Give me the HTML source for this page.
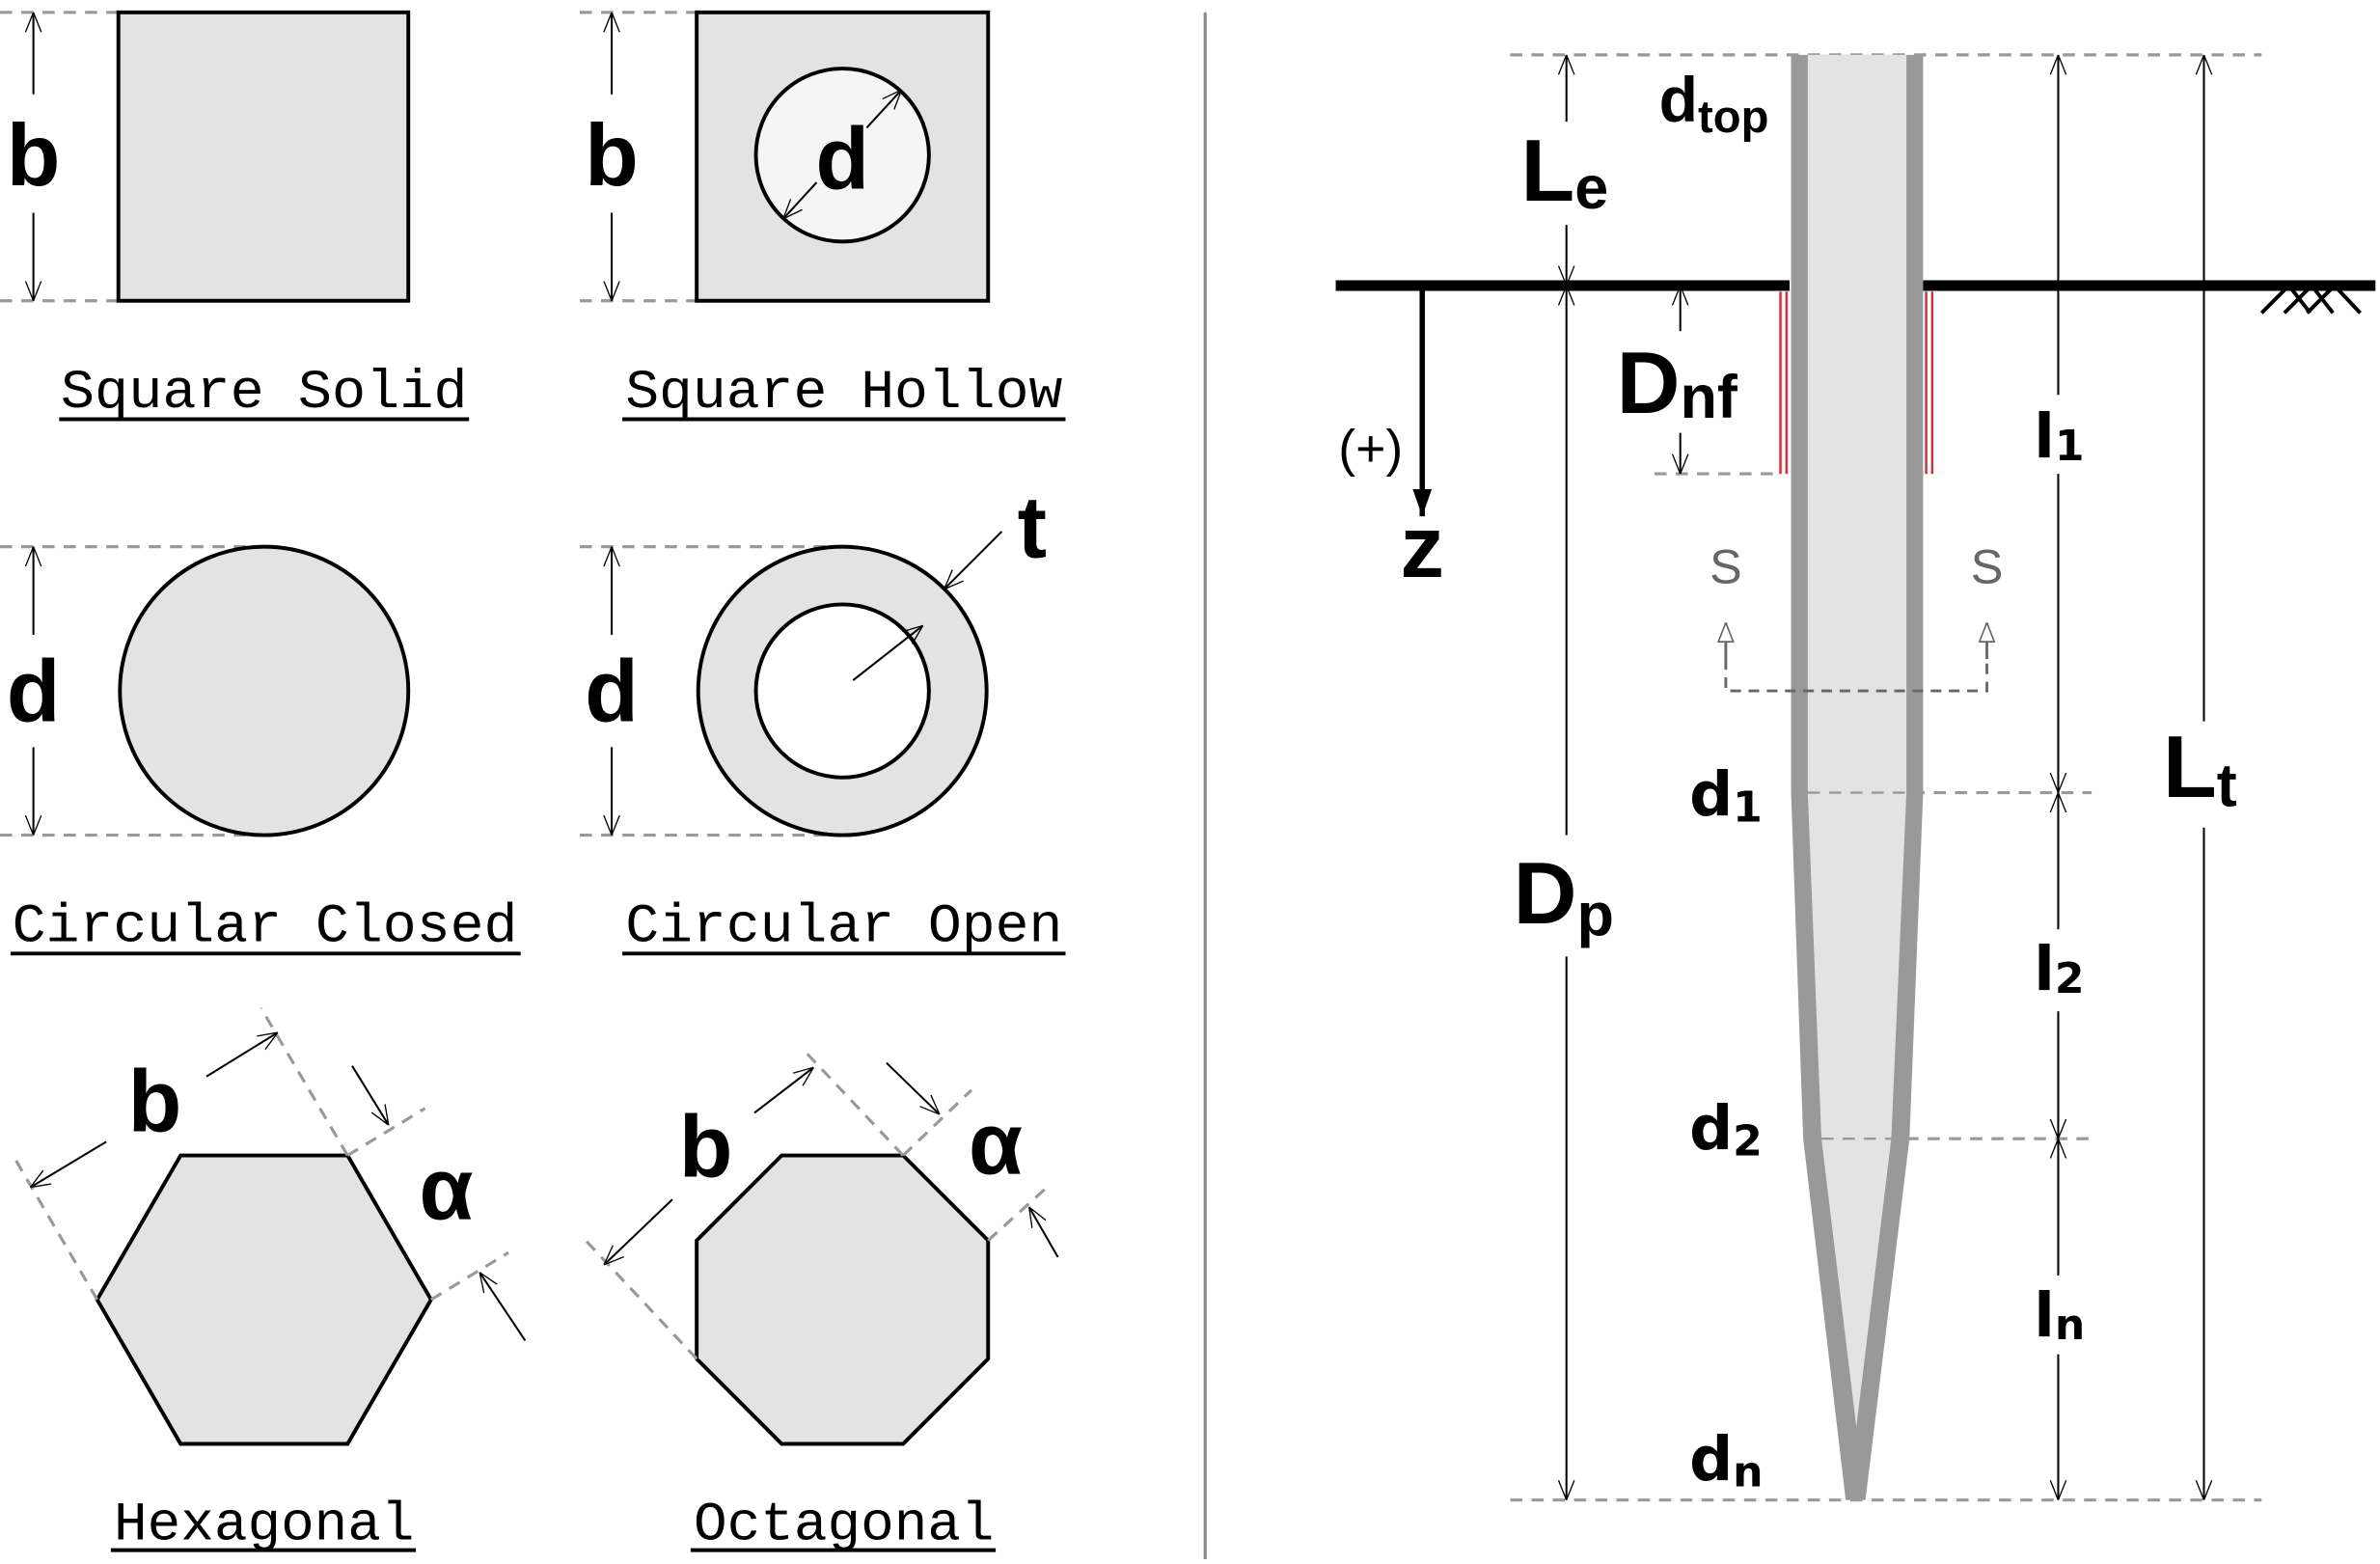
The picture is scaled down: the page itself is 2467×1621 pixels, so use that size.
<!DOCTYPE html>
<html><head><meta charset="utf-8"><style>html,body{margin:0;padding:0;background:#fff}svg{display:block}</style></head>
<body>
<svg width="2467" height="1621" viewBox="0 0 1568 1030" xmlns="http://www.w3.org/2000/svg">
<defs>
<marker id="a" viewBox="0 0 20 20" refX="20" refY="10" markerWidth="13" markerHeight="13" orient="auto" markerUnits="userSpaceOnUse"><path d="M0,2 L20,10 L0,18" fill="none" stroke="#000" stroke-width="1.3"/></marker>
<marker id="ga" viewBox="0 0 20 20" refX="20" refY="10" markerWidth="14" markerHeight="14" orient="auto" markerUnits="userSpaceOnUse"><path d="M2,3 L20,10 L2,17 Z" fill="#fff" stroke="#666" stroke-width="1.5"/></marker>
<marker id="z" viewBox="0 0 20 20" refX="20" refY="10" markerWidth="18" markerHeight="18" orient="auto" markerUnits="userSpaceOnUse"><path d="M0,3 L20,10 L0,17 Z" fill="#000"/></marker>
</defs>
<style>
.d{stroke:#999;stroke-width:2;stroke-dasharray:8,6;fill:none}
.t{stroke:#000;stroke-width:1.3;fill:none}
.s{fill:#e3e3e3;stroke:#000;stroke-width:2.5}
.big{font-family:"Liberation Sans",sans-serif;font-weight:bold;font-size:58px}
.lab{font-family:"Liberation Mono","DejaVu Sans Mono",monospace;font-size:36px}
.m{font-family:"DejaVu Sans","Liberation Sans",sans-serif;font-weight:bold;font-size:40px}
</style>
<!-- Square solid -->
<line class="d" x1="0" y1="8" x2="78" y2="8"/><line class="d" x1="0" y1="198" x2="78" y2="198"/>
<rect class="s" x="78" y="8" width="191" height="190"/>
<line class="t" x1="22" y1="62" x2="22" y2="8" marker-end="url(#a)"/><line class="t" x1="22" y1="140" x2="22" y2="198" marker-end="url(#a)"/>
<text class="big" x="22" y="122" text-anchor="middle">b</text>
<text class="lab" x="40" y="268" textLength="268" lengthAdjust="spacingAndGlyphs">Square Solid</text>
<line x1="39" y1="276" x2="309" y2="276" stroke="#000" stroke-width="2.5"/>
<!-- Square hollow -->
<line class="d" x1="382" y1="8" x2="459" y2="8"/><line class="d" x1="382" y1="198" x2="459" y2="198"/>
<rect class="s" x="459" y="8" width="192" height="190"/>
<circle cx="555" cy="102" r="57" fill="#f5f5f5" stroke="#000" stroke-width="2.5"/>
<line class="t" x1="571" y1="84" x2="594" y2="59" marker-end="url(#a)"/><line class="t" x1="538" y1="120" x2="516" y2="144" marker-end="url(#a)"/>
<text class="big" x="555" y="124" text-anchor="middle" font-size="46">d</text>
<line class="t" x1="403" y1="62" x2="403" y2="8" marker-end="url(#a)"/><line class="t" x1="403" y1="140" x2="403" y2="198" marker-end="url(#a)"/>
<text class="big" x="403" y="122" text-anchor="middle">b</text>
<text class="lab" x="412" y="268" textLength="288" lengthAdjust="spacingAndGlyphs">Square Hollow</text>
<line x1="410" y1="276" x2="702" y2="276" stroke="#000" stroke-width="2.5"/>
<!-- Circular closed -->
<line class="d" x1="0" y1="360" x2="174" y2="360"/><line class="d" x1="0" y1="550" x2="174" y2="550"/>
<circle class="s" cx="174" cy="455" r="95"/>
<line class="t" x1="22" y1="418" x2="22" y2="360" marker-end="url(#a)"/><line class="t" x1="22" y1="492" x2="22" y2="550" marker-end="url(#a)"/>
<text class="big" x="22" y="475" text-anchor="middle">d</text>
<text class="lab" x="8" y="620" textLength="333" lengthAdjust="spacingAndGlyphs">Circular Closed</text>
<line x1="7" y1="628" x2="343" y2="628" stroke="#000" stroke-width="2.5"/>
<!-- Circular open -->
<line class="d" x1="382" y1="360" x2="555" y2="360"/><line class="d" x1="382" y1="550" x2="555" y2="550"/>
<circle class="s" cx="555" cy="455" r="95"/>
<circle cx="555" cy="455" r="57" fill="#fff" stroke="#000" stroke-width="2.5"/>
<line class="t" x1="660" y1="350" x2="622" y2="388" marker-end="url(#a)"/>
<line class="t" x1="562" y1="448" x2="608" y2="412" marker-end="url(#a)"/>
<text class="big" x="680" y="367" text-anchor="middle">t</text>
<line class="t" x1="403" y1="418" x2="403" y2="360" marker-end="url(#a)"/><line class="t" x1="403" y1="492" x2="403" y2="550" marker-end="url(#a)"/>
<text class="big" x="403" y="475" text-anchor="middle">d</text>
<text class="lab" x="412" y="620" textLength="288" lengthAdjust="spacingAndGlyphs">Circular Open</text>
<line x1="410" y1="628" x2="702" y2="628" stroke="#000" stroke-width="2.5"/>
<!-- Hexagon -->
<polygon class="s" points="119,761 229,761 284,856 229,951 119,951 64,856"/>
<line class="d" x1="64" y1="856" x2="8" y2="760"/><line class="d" x1="229" y1="761" x2="172" y2="664"/>
<line class="t" x1="70" y1="752" x2="20" y2="782" marker-end="url(#a)"/><line class="t" x1="136" y1="709" x2="183" y2="680" marker-end="url(#a)"/>
<text class="big" x="102" y="745" text-anchor="middle">b</text>
<line class="d" x1="229" y1="761" x2="280" y2="730"/><line class="d" x1="284" y1="856" x2="335" y2="825"/>
<line class="t" x1="232" y1="702" x2="256" y2="741" marker-end="url(#a)"/><line class="t" x1="346" y1="883" x2="316" y2="838" marker-end="url(#a)"/>
<text class="big" x="294" y="803" text-anchor="middle">α</text>
<text class="lab" x="75" y="1014" textLength="198" lengthAdjust="spacingAndGlyphs">Hexagonal</text>
<line x1="73" y1="1021" x2="274" y2="1021" stroke="#000" stroke-width="2.5"/>
<!-- Octagon -->
<polygon class="s" points="515,761 595,761 651,817 651,895 595,951 515,951 459,895 459,817"/>
<line class="d" x1="459" y1="895" x2="384" y2="815"/><line class="d" x1="595" y1="761" x2="528" y2="690"/>
<line class="t" x1="443" y1="790" x2="398" y2="833" marker-end="url(#a)"/><line class="t" x1="497" y1="733" x2="536" y2="703" marker-end="url(#a)"/>
<text class="big" x="465" y="775" text-anchor="middle">b</text>
<line class="d" x1="595" y1="761" x2="640" y2="718"/><line class="d" x1="651" y1="817" x2="692" y2="780"/>
<line class="t" x1="584" y1="700" x2="619" y2="734" marker-end="url(#a)"/><line class="t" x1="697" y1="828" x2="678" y2="795" marker-end="url(#a)"/>
<text class="big" x="656" y="773" text-anchor="middle">α</text>
<text class="lab" x="457" y="1014" textLength="198" lengthAdjust="spacingAndGlyphs">Octagonal</text>
<line x1="455" y1="1021" x2="656" y2="1021" stroke="#000" stroke-width="2.5"/>
<!-- divider -->
<line x1="794" y1="8" x2="794" y2="1027" stroke="#888" stroke-width="2"/>
<!-- Right panel dashed lines -->
<line class="d" x1="995" y1="36" x2="1490" y2="36"/>
<line class="d" x1="995" y1="988" x2="1490" y2="988"/>
<line class="d" x1="1090" y1="312" x2="1172" y2="312"/>
<line class="d" x1="1190" y1="522" x2="1378" y2="522"/>
<line class="d" x1="1200" y1="750" x2="1378" y2="750"/>
<!-- pile -->
<polygon points="1180,36 1267,36 1267,522 1258,750 1229,988 1216,988 1188,750 1180,522" fill="#999"/>
<polygon points="1191,36 1256,36 1256,522 1246,750 1223,940 1200,750 1191,522" fill="#e3e3e3"/>
<line x1="1191" y1="522" x2="1256" y2="522" stroke="#999" stroke-width="1.5" stroke-dasharray="8,6"/>
<line x1="1200" y1="750" x2="1246" y2="750" stroke="#999" stroke-width="1.5" stroke-dasharray="8,6"/>
<!-- red -->
<g stroke="#d0313a" stroke-width="1.6"><line x1="1173" y1="192" x2="1173" y2="312"/><line x1="1177" y1="192" x2="1177" y2="312"/><line x1="1269" y1="192" x2="1269" y2="312"/><line x1="1273" y1="192" x2="1273" y2="312"/></g>
<!-- ground -->
<line x1="880" y1="188" x2="1179" y2="188" stroke="#000" stroke-width="7"/>
<line x1="1267" y1="188" x2="1565" y2="188" stroke="#000" stroke-width="7"/>
<path d="M1490,206 L1508,188 L1522,206 M1505,206 L1523,188 L1537,206 M1520,206 L1538,188 L1555,206" fill="none" stroke="#000" stroke-width="2.5"/>
<!-- z -->
<line x1="937" y1="188" x2="937" y2="340" stroke="#000" stroke-width="3.5" marker-end="url(#z)"/>
<text x="903" y="307" font-family="Liberation Sans,sans-serif" font-size="34" text-anchor="middle">(+)</text>
<text class="big" x="937" y="380" text-anchor="middle" font-size="44">z</text>
<!-- Le / Dp -->
<line class="t" x1="1032" y1="80" x2="1032" y2="36" marker-end="url(#a)"/>
<line class="t" x1="1032" y1="148" x2="1032" y2="188" marker-end="url(#a)"/>
<line class="t" x1="1032" y1="550" x2="1032" y2="188" marker-end="url(#a)"/>
<line class="t" x1="1032" y1="630" x2="1032" y2="988" marker-end="url(#a)"/>
<text class="big" x="1002" y="132">L<tspan font-size="40" dy="5">e</tspan></text>
<text class="big" x="997" y="608">D<tspan font-size="40" dy="8">p</tspan></text>
<!-- Dnf -->
<line class="t" x1="1107" y1="218" x2="1107" y2="188" marker-end="url(#a)"/>
<line class="t" x1="1107" y1="285" x2="1107" y2="312" marker-end="url(#a)"/>
<text class="big" x="1065" y="272">D<tspan font-size="40" dy="3">nf</tspan></text>
<text x="1093" y="80" font-family="Liberation Sans,sans-serif" font-weight="bold" font-size="42">d<tspan font-size="30" dy="7">top</tspan></text>
<!-- S -->
<text x="1137" y="384" font-family="Liberation Sans,sans-serif" font-size="32" fill="#666" text-anchor="middle">S</text>
<text x="1309" y="384" font-family="Liberation Sans,sans-serif" font-size="32" fill="#666" text-anchor="middle">S</text>
<path d="M1137,434 L1137,455 L1309,455 L1309,434" fill="none" stroke="#666" stroke-width="1.8" stroke-dasharray="7,5"/>
<line x1="1137" y1="434" x2="1137" y2="410" stroke="#666" stroke-width="1.8" marker-end="url(#ga)"/>
<line x1="1309" y1="434" x2="1309" y2="410" stroke="#666" stroke-width="1.8" marker-end="url(#ga)"/>
<!-- l dims -->
<line class="t" x1="1356" y1="260" x2="1356" y2="36" marker-end="url(#a)"/>
<line class="t" x1="1356" y1="312" x2="1356" y2="522" marker-end="url(#a)"/>
<line class="t" x1="1356" y1="612" x2="1356" y2="522" marker-end="url(#a)"/>
<line class="t" x1="1356" y1="666" x2="1356" y2="750" marker-end="url(#a)"/>
<line class="t" x1="1356" y1="840" x2="1356" y2="750" marker-end="url(#a)"/>
<line class="t" x1="1356" y1="892" x2="1356" y2="988" marker-end="url(#a)"/>
<text class="m" x="1340" y="301">l<tspan font-size="28" dy="2">1</tspan></text>
<text class="m" x="1340" y="652">l<tspan font-size="28" dy="2">2</tspan></text>
<text class="m" x="1340" y="880">l<tspan font-size="28" dy="2">n</tspan></text>
<!-- Lt -->
<line class="t" x1="1452" y1="475" x2="1452" y2="36" marker-end="url(#a)"/>
<line class="t" x1="1452" y1="545" x2="1452" y2="988" marker-end="url(#a)"/>
<text class="big" x="1425" y="525">L<tspan font-size="40" dy="6">t</tspan></text>
<!-- d labels -->
<text class="m" x="1113" y="537">d<tspan font-size="28" dy="4">1</tspan></text>
<text class="m" x="1113" y="757">d<tspan font-size="28" dy="4">2</tspan></text>
<text class="m" x="1113" y="975">d<tspan font-size="28" dy="4">n</tspan></text>
</svg>
</body></html>
